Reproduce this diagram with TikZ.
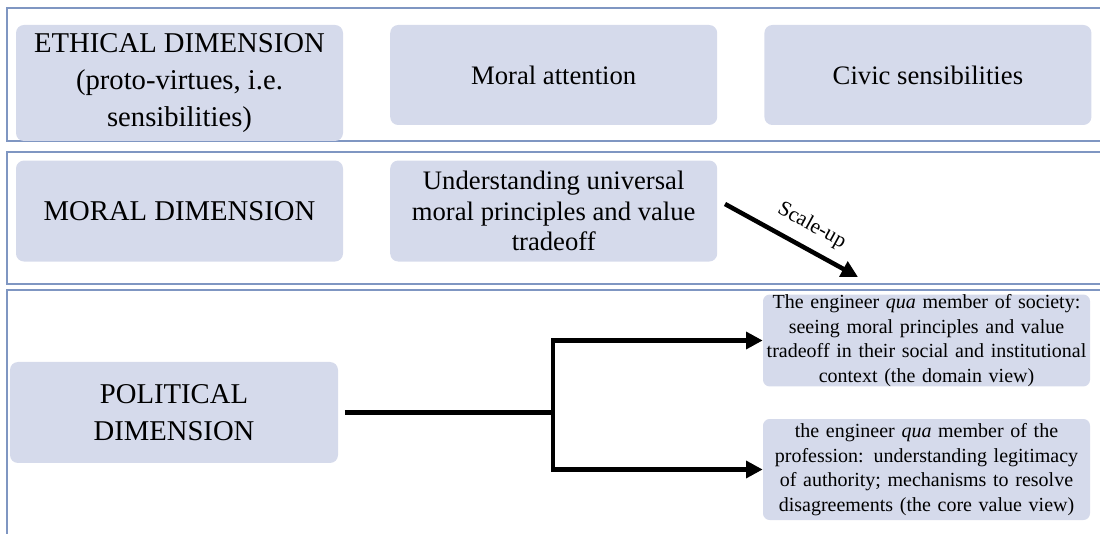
\documentclass[tikz,border=0pt]{standalone}
\usepackage{fontspec}
\setmainfont{Liberation Serif}
\usetikzlibrary{positioning,arrows.meta,calc}
\definecolor{boxfill}{HTML}{D5DAEB}
\definecolor{bandline}{HTML}{7F96C2}

\begin{document}
\begin{tikzpicture}[x=0.75pt, y=-0.75pt, every node/.style={inner sep=0pt},
		dimbox/.style={rectangle, rounded corners=6pt, fill=boxfill, minimum width=245.25pt, minimum height=75pt, align=center},
		bigtext/.style={font=\fontsize{21.5}{27.5}\selectfont},
		midtext/.style={font=\fontsize{20}{22.8}\selectfont},
		smalltext/.style={font=\fontsize{15}{18.4}\selectfont, text width=243pt},
		band/.style={draw=bandline, line width=1.2pt},
		link/.style={line width=3.4pt, -{Triangle[length=12.5pt,width=12.5pt]}}]
				\useasboundingbox (0,0) rectangle (1100,534);
				
				% the three bands
				\draw[band] (1110,8) -| (7,141) -- (1110,141);
				\draw[band] (1110,152) -| (7,284) -- (1110,284);
				\draw[band] (1110,290) -| (7,545);
				
				\node[dimbox, bigtext, minimum height=87pt] (eth) at (179.5,83) {ETHICAL DIMENSION\\(proto-virtues, i.e.\\sensibilities)};
				\node[dimbox, midtext, right=35pt of eth.north east, anchor=north west] (att) {Moral attention};
				\node[dimbox, midtext, right=35pt of att] (civ) {Civic sensibilities};
				
				\node[dimbox, bigtext, minimum height=75.75pt, below=14.25pt of eth] (mor) {MORAL DIMENSION};
				\node[dimbox, midtext, minimum height=75.75pt, right=35pt of mor] (und) {Understanding universal\\moral principles and value\\tradeoff};
				
				\node[dimbox, bigtext, minimum width=246pt, minimum height=75.75pt] (pol) at (174,412.5) {POLITICAL\\DIMENSION};
				\node[dimbox, smalltext, minimum height=68.25pt, rounded corners=5pt] (dom) at (926.5,340.5) {The engineer \emph{qua} member of society:\\seeing moral principles and value\\tradeoff in their social and institutional\\context (the domain view)};
				\node[dimbox, smalltext, minimum height=75.75pt, rounded corners=5pt, below=24pt of dom] (cor) {the engineer \emph{qua} member of the\\profession: understanding legitimacy\\of authority; mechanisms to resolve\\disagreements (the core value view)};
				
				% scale-up arrow
				\coordinate (su1) at (725,204);
				\coordinate (su2) at (858,277);
				\draw[link] (su1) -- node[sloped, above=8pt, pos=0.57, font=\fontsize{16}{19}\selectfont] (sul) {Scale-up} (su2);
				
				% political fork
				\coordinate (fork) at (553,412.5);
				\draw[line width=3.4pt, shorten <=5pt] (pol.east) -- (fork);
				\draw[link] (fork) |- (dom.west);
				\draw[link] (fork) |- (cor.west);
			\end{tikzpicture}
\end{document}
